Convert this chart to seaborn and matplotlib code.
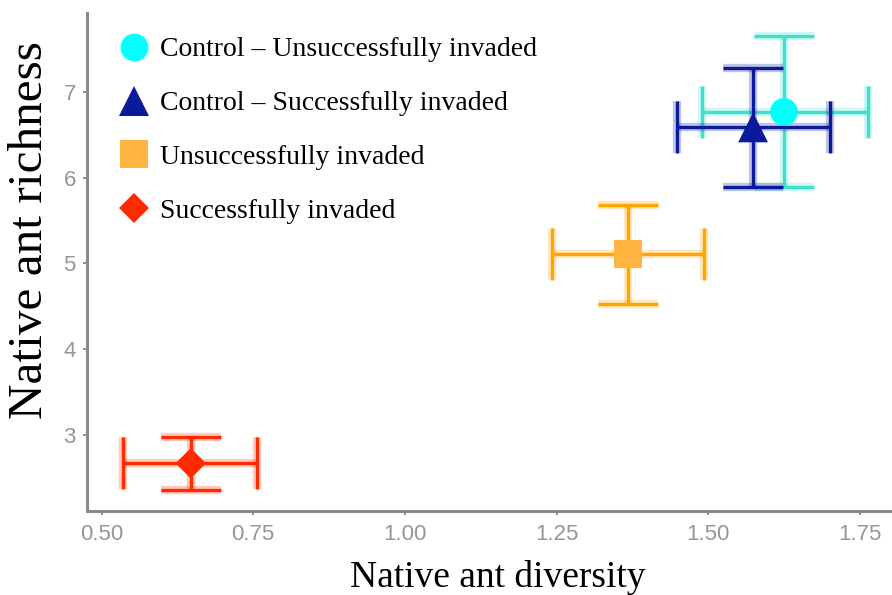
import matplotlib
matplotlib.use("Agg")
import matplotlib.pyplot as plt
from matplotlib.lines import Line2D
import seaborn as sns
import pandas as pd

# ---- data ----
groups = ["Control \u2013 Unsuccessfully invaded", "Control \u2013 Successfully invaded",
          "Unsuccessfully invaded", "Successfully invaded"]
diversity = [1.625, 1.574, 1.368, 0.647]
diversity_low = [1.490, 1.448, 1.243, 0.535]
diversity_high = [1.764, 1.700, 1.493, 0.756]
richness = [6.765, 6.585, 5.105, 2.670]
richness_low = [5.890, 5.895, 4.530, 2.360]
richness_high = [7.650, 7.275, 5.675, 2.980]
x_ticks = [0.50, 0.75, 1.00, 1.25, 1.50, 1.75]
x_tick_labels = ["0.50", "0.75", "1.00", "1.25", "1.50", "1.75"]
y_ticks = [3, 4, 5, 6, 7]

marker_colors = ["#00FFFF", "#0A1A9A", "#FFB340", "#FF2A00"]
bar_colors = ["#40E0D0", "#0A1A9A", "#FFA500", "#FF2A00"]
markers = ["o", "^", "s", "D"]
msizes = [20, 21.5, 20, 15.5]

df = pd.DataFrame({"group": groups, "diversity": diversity, "richness": richness})

sns.set_theme(style="white")
plt.rcParams["font.family"] = ["Liberation Serif", "DejaVu Serif"]
plt.rcParams["text.color"] = "black"

fig = plt.figure(figsize=(8.92, 5.95), dpi=100)
ax = fig.add_axes([87 / 892, 1 - 511 / 595, 1 - 87 / 892, (511 - 13) / 595])

for i in range(len(groups)):
    xe = [[diversity[i] - diversity_low[i]], [diversity_high[i] - diversity[i]]]
    ye = [[richness[i] - richness_low[i]], [richness_high[i] - richness[i]]]
    for lw, a in [(6, 0.25), (2.4, 1.0)]:
        ax.errorbar([diversity[i]], [richness[i]], yerr=ye, fmt="none",
                    ecolor=bar_colors[i], elinewidth=lw, capsize=21.6,
                    capthick=lw, alpha=a, zorder=2)
        ax.errorbar([diversity[i]], [richness[i]], xerr=xe, fmt="none",
                    ecolor=bar_colors[i], elinewidth=lw, capsize=19,
                    capthick=lw, alpha=a, zorder=2)

for i, g in enumerate(groups):
    sns.scatterplot(data=df[df["group"] == g], x="diversity", y="richness",
                    marker=markers[i], s=msizes[i] ** 2, color=marker_colors[i],
                    edgecolor="none", linewidth=0, ax=ax, zorder=5, legend=False)

ax.set_xlim(0.476, 1.803)
ax.set_ylim(2.114, 7.918)
ax.set_xticks(x_ticks)
ax.set_xticklabels(x_tick_labels)
ax.set_yticks(y_ticks)
ax.set_xlabel("")
ax.set_ylabel("")
for lab in ax.get_xticklabels() + ax.get_yticklabels():
    lab.set_fontfamily("Liberation Sans")
    lab.set_fontsize(16)
    lab.set_color("#969696")
ax.tick_params(axis="both", direction="out", length=3, width=1.2, color="#7a7a7a",
               bottom=True, left=True)
ax.tick_params(axis="x", pad=6)
ax.tick_params(axis="y", pad=5)
for s in ["top", "right"]:
    ax.spines[s].set_visible(False)
for s in ["left", "bottom"]:
    ax.spines[s].set_color("#8a8a8a")
    ax.spines[s].set_linewidth(2.2)

handles = [Line2D([], [], linestyle="none", marker=markers[i], markersize=msizes[i],
                  markerfacecolor=marker_colors[i], markeredgewidth=0)
           for i in range(len(groups))]
leg = ax.legend(handles, groups, loc="upper left", bbox_to_anchor=(120 / 892, 1 - 37 / 595),
                bbox_transform=fig.transFigure, frameon=False, fontsize=20,
                handlelength=1.0, handletextpad=0.45, labelspacing=1.02,
                borderpad=0, borderaxespad=0)
for t in leg.get_texts():
    t.set_color("black")

fig.text(498 / 892, 1 - 587 / 595, "Native ant diversity", ha="center", va="baseline",
         fontsize=27, color="black")
fig.text(30 / 892, 1 - 230 / 595, "Native ant richness", ha="center", va="center",
         rotation=90, fontsize=35.5, color="black")

fig.savefig("out.png", dpi=100)
